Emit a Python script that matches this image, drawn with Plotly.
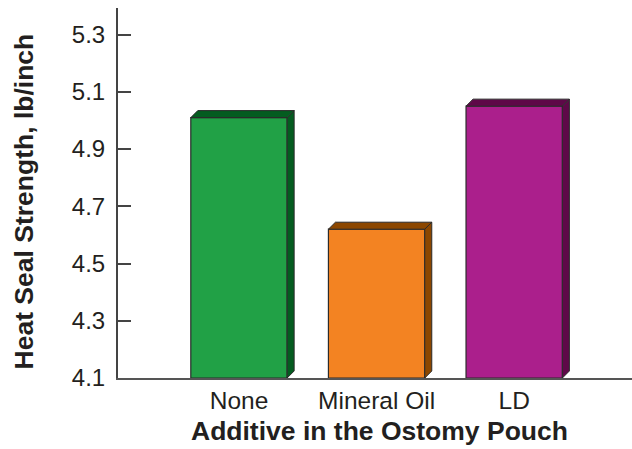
import plotly.graph_objects as go

# Heat seal strength of ostomy pouch film by additive
categories = ["None", "Mineral Oil", "LD"]
strength = [5.01, 4.62, 5.05]
front_colors = ["#21A146", "#F38322", "#AB1F8C"]
side_colors = ["#045C20", "#8C4700", "#5E0848"]
y_ticks = [4.1, 4.3, 4.5, 4.7, 4.9, 5.1, 5.3]

y_min, y_max = 4.1, 5.393
x_min, x_max = -0.879, 2.856
bar_w = 0.70
# depth of the extruded faces, in axis units (about 7 px each way)
dx = 0.051
dy = 0.0245

fig = go.Figure()

# front faces
fig.add_trace(go.Bar(
    x=list(range(len(categories))), y=[v - y_min for v in strength], base=y_min,
    width=bar_w, marker=dict(color=front_colors, line=dict(color="#2b2b2b", width=1.2)),
    hoverinfo="skip", showlegend=False,
))

# side and top faces of each box
for i, (v, c) in enumerate(zip(strength, side_colors)):
    r = i + bar_w / 2
    l = i - bar_w / 2
    fig.add_trace(go.Scatter(
        x=[r, r + dx, r + dx, r, r], y=[y_min, y_min + dy, v + dy, v, y_min],
        fill="toself", fillcolor=c, mode="lines",
        line=dict(color="#2b2b2b", width=1), hoverinfo="skip", showlegend=False,
    ))
    fig.add_trace(go.Scatter(
        x=[l, l + dx, r + dx, r, l], y=[v, v + dy, v + dy, v, v],
        fill="toself", fillcolor=c, mode="lines",
        line=dict(color="#2b2b2b", width=1), hoverinfo="skip", showlegend=False,
    ))

font_family = "Liberation Sans, Arial, Helvetica, sans-serif"

fig.update_layout(
    width=632, height=449,
    margin=dict(l=118, r=0, t=8, b=71),
    paper_bgcolor="white", plot_bgcolor="white",
    font=dict(family=font_family, color="#231f20"),
    xaxis=dict(
        range=[x_min, x_max], tickvals=list(range(len(categories))), ticktext=categories,
        showgrid=False, zeroline=False, showline=True, linecolor="#555555", linewidth=2,
        ticks="", tickfont=dict(size=24.5), ticklabelstandoff=0,
    ),
    yaxis=dict(
        range=[y_min, y_max], tickvals=y_ticks, ticktext=[f"{t:.1f}" for t in y_ticks],
        showgrid=False, zeroline=False, showline=True, linecolor="#444444", linewidth=2,
        ticks="inside", ticklen=13, tickwidth=1.5, tickcolor="#444444",
        tickfont=dict(size=24), ticklabelstandoff=6,
    ),
    annotations=[
        dict(text="<b>Additive in the Ostomy Pouch</b>", xref="paper", yref="paper",
             x=0.5097, y=-0.0973, xanchor="center", yanchor="top",
             showarrow=False, font=dict(size=26.5)),
        dict(text="<b>Heat Seal Strength, lb/inch</b>", xref="paper", yref="paper",
             x=-0.183, y=0.477, xanchor="center", yanchor="middle", textangle=-90,
             showarrow=False, font=dict(size=26.5)),
    ],
)

fig.write_html("out.html")
